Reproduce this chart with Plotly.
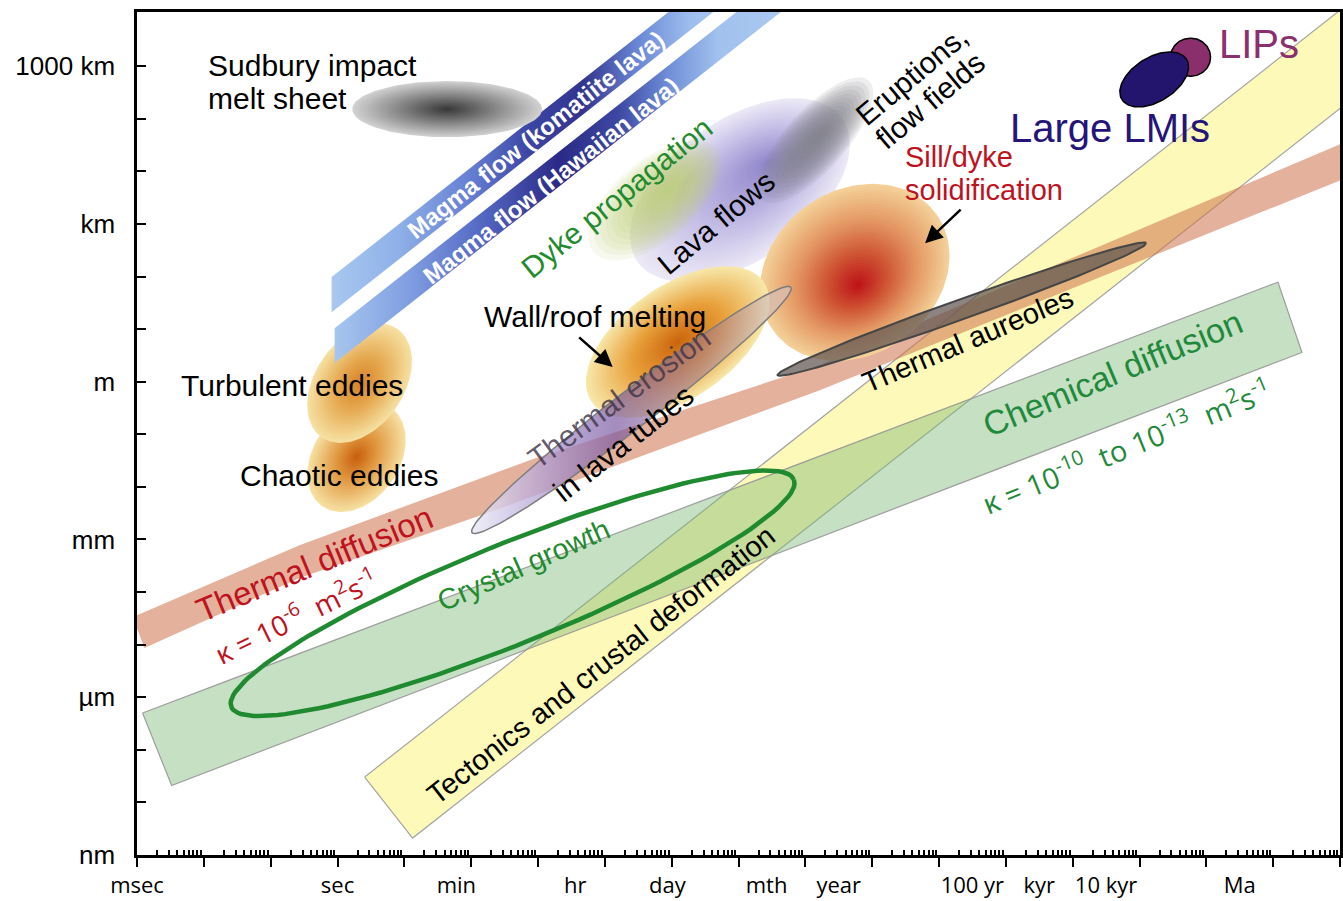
import numpy as np
import plotly.graph_objects as go

# ---------------------------------------------------------------- canvas / axes
W, H = 1343, 901
M_L, M_R, M_T, M_B = 137, 3, 12, 46
X_RANGE = (-3.0, 15.0)     # log10 of time in seconds
Y_RANGE = (-9.0, 7.03)     # log10 of length in metres
PX_PER_DEC_X = (W - M_L - M_R) / (X_RANGE[1] - X_RANGE[0])
PX_PER_DEC_Y = (H - M_T - M_B) / (Y_RANGE[1] - Y_RANGE[0])
ASPECT = PX_PER_DEC_Y / PX_PER_DEC_X

SANS = "Liberation Sans"
ALT = "Open Sans"

# ---------------------------------------------------------------- axis labels
unit_labels = ["msec", "sec", "min", "hr", "day", "mth", "year", "100 yr", "kyr", "10 kyr", "Ma"]
unit_seconds = [1e-3, 1, 60, 3600, 86400, 2.63e6, 3.156e7, 3.156e9, 3.156e10, 3.156e11, 3.156e13]
length_labels = ["nm", "µm", "mm", "m", "km", "1000 km"]
length_metres = [1e-9, 1e-6, 1e-3, 1, 1e3, 1e6]

# ---------------------------------------------------------------- bands (time s, length m)
tectonics_t = [2.55, 13.3, 2.3e17, 4.5e16]
tectonics_L = [3.04e-8, 2.1e-9, 3.6e7, 5.2e8]

chemical_t = [1.21e-3, 1.18e14, 2.7e14, 3.3e-3]
chemical_L = [5.0e-7, 78, 3.6, 2.1e-8]

thermal_upper_t = [8.6e-4, 0.27, 750, 1.65e7, 3e15]
thermal_upper_L = [3.35e-5, 7.8e-4, 0.032, 2.07, 5.9e4]
thermal_lower_t = [1.29e-3, 0.27, 189, 1.65e7, 3e15]
thermal_lower_L = [8.6e-6, 1.85e-4, 3.3e-3, 0.69, 1.18e4]

komatiite_t = [0.817, 6.2e5, 6.2e5, 0.817]
komatiite_L = [97.5, 7.4e7, 1.58e7, 20.9]
hawaiian_t = [0.906, 6.35e6, 6.35e6, 0.906]
hawaiian_L = [10.4, 7.3e7, 1.58e7, 2.26]

# ---------------------------------------------------------------- process regimes (ellipses)
# centre time (s), centre length (m), half extents (decades of time), tilt (deg)
regimes = ["sudbury", "turbulent", "chaotic", "dyke", "lava", "eruptions", "wallroof",
           "sill", "erosion", "aureoles", "crystal", "lmi", "lip"]
regime_t = [43.8, 2.14, 1.93, 5.6e4, 1.05e6, 1.4e7, 1.23e5, 5.5e7, 2.5e4, 2.2e9, 417, 1.66e12, 5.8e12]
regime_L = [1.52e5, 0.94, 0.037, 2.8e3, 4.4e3, 3.9e4, 5.7, 120, 0.29, 24, 9.5e-5, 5.6e5, 1.48e6]
regime_major = [1.42, 0.99, 0.90, 1.20, 1.87, 1.20, 1.57, 1.50, 3.01, 2.93, 4.54, 0.57, 0.30]
regime_minor = [0.42, 0.66, 0.64, 0.60, 1.05, 0.45, 0.84, 1.23, 0.28, 0.15, 0.75, 0.33, 0.285]
regime_tilt = [0, 55, 55, 40, 35, 48, 35, 35, 37.6, 19.7, 22, 32, 0]
R = {name: i for i, name in enumerate(regimes)}

fig = go.Figure()


def rgb(c, a=1.0):
    return "rgba(%d,%d,%d,%.3f)" % (round(c[0]), round(c[1]), round(c[2]), a)


def mix(stops, f):
    for (p0, c0), (p1, c1) in zip(stops[:-1], stops[1:]):
        if f <= p1:
            g = (f - p0) / (p1 - p0) if p1 > p0 else 0.0
            return tuple(c0[j] + (c1[j] - c0[j]) * g for j in range(3))
    return stops[-1][1]


def ellipse_xy(i, scale=1.0, focus=(0.0, 0.0), n=140):
    th = np.radians(regime_tilt[i])
    a_full, b_full = regime_major[i], regime_minor[i]
    a, b = a_full * scale, b_full * scale
    shift = 1.0 - scale
    ox = (focus[0] * a_full * np.cos(th) - focus[1] * b_full * np.sin(th)) * shift
    oy = (focus[0] * a_full * np.sin(th) + focus[1] * b_full * np.cos(th)) * shift
    phi = np.linspace(0, 2 * np.pi, n)
    u = a * np.cos(phi) * np.cos(th) - b * np.sin(phi) * np.sin(th) + ox
    w = a * np.cos(phi) * np.sin(th) + b * np.sin(phi) * np.cos(th) + oy
    x = np.log10(regime_t[i]) + u
    y = np.log10(regime_L[i]) + w / ASPECT
    return 10 ** x, 10 ** y


def poly(x, y, **kw):
    fig.add_trace(go.Scatter(x=list(x) + [x[0]], y=list(y) + [y[0]], mode="lines",
                             fill="toself", hoverinfo="skip", showlegend=False, **kw))


def shaded_ellipse(name, stops, layers=36, focus=(0.0, 0.0)):
    i = R[name]
    for k in range(layers):
        s = 1.0 - k / layers
        x, y = ellipse_xy(i, s, focus)
        poly(x, y, fillcolor=rgb(mix(stops, k / (layers - 1))), line=dict(width=0))


def haze_ellipse(name, color, alpha, layers=14, focus=(0.0, 0.0)):
    i = R[name]
    for k in range(layers):
        s = 1.0 - k / layers
        x, y = ellipse_xy(i, s, focus)
        poly(x, y, fillcolor=rgb(color, alpha), line=dict(width=0))


# ---------------------------------------------------------------- bands
poly(tectonics_t, tectonics_L, fillcolor="rgb(253,249,184)",
     line=dict(color="rgb(165,165,165)", width=1.2))
poly(chemical_t, chemical_L, fillcolor="rgba(120,180,115,0.42)",
     line=dict(color="rgba(150,150,150,0.9)", width=1.2))
poly(thermal_upper_t + thermal_lower_t[::-1], thermal_upper_L + thermal_lower_L[::-1],
     fillcolor="rgba(205,115,75,0.55)", line=dict(width=0))

# ---------------------------------------------------------------- eddies
shaded_ellipse("chaotic", [(0, (246, 224, 162)), (0.6, (224, 150, 62)), (1, (200, 96, 16))])
shaded_ellipse("turbulent", [(0, (246, 224, 162)), (0.6, (228, 165, 75)), (1, (216, 132, 42))])

# ---------------------------------------------------------------- magma flow bands
poly(komatiite_t, komatiite_L, fillcolor="rgb(110,140,215)", line=dict(width=0),
     fillgradient=dict(type="horizontal", colorscale=[
         [0.0, "rgb(168,200,240)"], [0.17, "rgb(143,176,232)"], [0.35, "rgb(102,128,212)"],
         [0.5, "rgb(60,70,166)"], [0.64, "rgb(50,52,142)"], [0.78, "rgb(106,136,214)"],
         [0.91, "rgb(157,189,238)"], [1.0, "rgb(168,200,240)"]]))
poly(hawaiian_t, hawaiian_L, fillcolor="rgb(100,125,205)", line=dict(width=0),
     fillgradient=dict(type="horizontal", colorscale=[
         [0.0, "rgb(166,198,239)"], [0.17, "rgb(127,156,224)"], [0.32, "rgb(84,104,196)"],
         [0.49, "rgb(43,42,134)"], [0.62, "rgb(61,72,162)"], [0.73, "rgb(111,142,216)"],
         [0.84, "rgb(162,194,238)"], [1.0, "rgb(170,202,242)"]]))

# ---------------------------------------------------------------- volcanic regimes
shaded_ellipse("lava", [(0, (236, 233, 246)), (0.45, (196, 189, 230)), (1, (146, 136, 204))],
               layers=44, focus=(0.3, 0.1))
haze_ellipse("dyke", (190, 208, 112), 0.12, focus=(0.25, 0.0))
haze_ellipse("eruptions", (122, 122, 134), 0.13, focus=(0.1, 0.0))
shaded_ellipse("sill", [(0, (244, 208, 152)), (0.35, (228, 152, 100)), (0.7, (206, 82, 50)),
                        (1, (190, 20, 25))], focus=(-0.05, -0.15))
shaded_ellipse("wallroof", [(0, (247, 230, 168)), (0.5, (232, 160, 58)), (1, (204, 102, 14))])

# thermal erosion in lava tubes (translucent)
x, y = ellipse_xy(R["erosion"])
poly(x, y, fillcolor="rgba(130,95,165,0.6)", line=dict(color="rgb(125,125,125)", width=1.5),
     fillgradient=dict(type="horizontal", colorscale=[
         [0.0, "rgba(236,236,248,0.85)"], [0.25, "rgba(172,152,208,0.75)"],
         [0.45, "rgba(120,86,160,0.68)"], [0.72, "rgba(150,112,150,0.5)"],
         [1.0, "rgba(215,205,205,0.55)"]]))

# thermal aureoles
x, y = ellipse_xy(R["aureoles"])
poly(x, y, fillcolor="rgba(95,85,80,0.72)", line=dict(color="rgb(70,70,70)", width=2))

# crystal growth outline
x, y = ellipse_xy(R["crystal"])
fig.add_trace(go.Scatter(x=x, y=y, mode="lines", line=dict(color="rgb(31,138,47)", width=4.5),
                         hoverinfo="skip", showlegend=False))

# Sudbury melt sheet
shaded_ellipse("sudbury", [(0, (208, 208, 208)), (1, (58, 58, 58))])

# LIPs and large LMIs
x, y = ellipse_xy(R["lip"])
poly(x, y, fillcolor="rgb(138,47,108)", line=dict(color="black", width=1.5))
x, y = ellipse_xy(R["lmi"])
poly(x, y, fillcolor="rgb(35,20,110)", line=dict(color="black", width=1.5))

# empty trace that carries the time-unit label axis
fig.add_trace(go.Scatter(x=[], y=[], xaxis="x2", yaxis="y", showlegend=False, hoverinfo="skip"))

# ---------------------------------------------------------------- text
NB = "\u00a0"
RED = "rgb(192,18,30)"
GREEN = "rgb(34,139,46)"

labels = [
    # text, time, length, angle, size, colour, anchor, family
    ("Sudbury impact", 0.0106, 1.05e6, 0, 30, "black", "left", SANS),
    ("melt sheet", 0.0106, 2.45e5, 0, 30, "black", "left", SANS),
    ("Turbulent eddies", 4.18e-3, 0.86, 0, 30, "black", "left", SANS),
    ("Chaotic eddies", 0.032, 0.0167, 0, 30, "black", "left", SANS),
    ("Wall/roof melting", 143.5, 17.7, 0, 30, "black", "left", SANS),
    ("Sill/dyke", 2.9e8, 1.86e4, 0, 29, RED, "left", SANS),
    ("solidification", 2.9e8, 4.4e3, 0, 29, RED, "left", SANS),
    ("LIPs", 1.45e13, 2.63e6, 0, 40, "rgb(140,47,110)", "left", SANS),
    ("Large LMIs", 3.6e11, 6.6e4, 0, 40, "rgb(37,21,122)", "center", SANS),
    ("<b>Magma flow (komatiite lava)</b>", 925, 5.1e4, 38.2, 24, "white", "center", SANS),
    ("<b>Magma flow (Hawaiian lava)</b>", 1550, 6.8e3, 38.2, 24, "white", "center", SANS),
    ("Dyke propagation", 1.5e4, 3.2e3, 39, 30, GREEN, "center", SANS),
    ("Lava flows", 4.6e5, 1.08e3, 40, 30, "black", "center", SANS),
    ("Eruptions,", 3.9e8, 6.7e5, 40, 30, "black", "center", SANS),
    ("flow fields", 7.3e8, 2.26e5, 40, 30, "black", "center", SANS),
    ("Thermal erosion", 1.67e4, 0.49, 36, 30, "rgba(60,50,70,0.8)", "center", SANS),
    ("in lava tubes", 1.85e4, 0.068, 38, 30, "black", "center", SANS),
    ("Thermal aureoles", 2.7e9, 6.2, 23, 29, "black", "center", SANS),
    ("Chemical diffusion", 4.0e11, 1.46, 22.6, 34, "rgb(30,138,58)", "center", SANS),
    ("κ = 10<sup>-10</sup>" + NB * 2 + "to 10<sup>-13</sup>" + NB + " m<sup>2</sup>s<sup>-1</sup>",
     6.3e11, 0.062, 22, 29, "rgb(30,138,58)", "center", ALT),
    ("Thermal diffusion", 0.454, 3.56e-4, 22.5, 33, RED, "center", SANS),
    ("κ = 10<sup>-6</sup>" + NB + " m<sup>2</sup>s<sup>-1</sup>", 0.236, 3.66e-5, 26, 28, RED, "center", ALT),
    ("Crystal growth", 611, 3.26e-4, 24, 29, GREEN, "center", SANS),
    ("Tectonics and crustal deformation", 8.7e3, 4.1e-6, 38, 29, "black", "center", SANS),
]
for text, t, L, ang, size, col, anchor, fam in labels:
    fig.add_annotation(x=np.log10(t), y=np.log10(L), text=text, showarrow=False,
                       textangle=-ang, xanchor=anchor, yanchor="middle",
                       font=dict(family=fam, size=size, color=col))

# arrows pointing to wall/roof melting and sill/dyke solidification
for t, L, ax, ay in [(1.31e4, 1.9, -35, -31), (6.2e8, 431, 37, -35)]:
    fig.add_annotation(x=np.log10(t), y=np.log10(L), text="", showarrow=True,
                       ax=ax, ay=ay, arrowhead=2, arrowsize=1.4, arrowwidth=2.5,
                       arrowcolor="black", standoff=0)

# ---------------------------------------------------------------- layout
decades_x = [10.0 ** k for k in range(-3, 16)]
minor_x = [m * 10.0 ** k for k in range(-3, 15) for m in range(2, 10)]
decades_y = [10.0 ** k for k in range(-9, 7)]
ytext = []
for v in decades_y:
    hit = [lab for lab, m in zip(length_labels, length_metres) if abs(np.log10(m) - np.log10(v)) < 1e-6]
    ytext.append(hit[0] if hit else "")

fig.update_layout(
    width=W, height=H,
    margin=dict(l=M_L, r=M_R, t=M_T, b=M_B),
    paper_bgcolor="white", plot_bgcolor="white",
    showlegend=False,
    font=dict(family=SANS, color="black"),
    xaxis=dict(type="log", range=list(X_RANGE), showline=True, linecolor="black", linewidth=2.5,
               mirror=True, ticks="outside", ticklen=9, tickwidth=2, tickcolor="black",
               tickvals=decades_x, showticklabels=False, showgrid=False, zeroline=False,
               automargin=False,
               minor=dict(ticks="inside", ticklen=5, tickwidth=1.5, tickcolor="black",
                          tickvals=minor_x, showgrid=False)),
    xaxis2=dict(type="log", range=list(X_RANGE), overlaying="x", side="bottom", anchor="y",
                tickvals=unit_seconds, ticktext=unit_labels, ticks="", showline=False,
                showgrid=False, zeroline=False, ticklabelstandoff=15, automargin=False,
                tickfont=dict(family=ALT, size=22, color="black")),
    yaxis=dict(type="log", range=list(Y_RANGE), showline=True, linecolor="black", linewidth=2.5,
               mirror=True, ticks="inside", ticklen=9, tickwidth=2, tickcolor="black",
               tickvals=decades_y, ticktext=ytext, ticklabelstandoff=14, automargin=False,
               tickfont=dict(family=SANS, size=26, color="black"),
               showgrid=False, zeroline=False),
)

fig.write_html("out.html")
